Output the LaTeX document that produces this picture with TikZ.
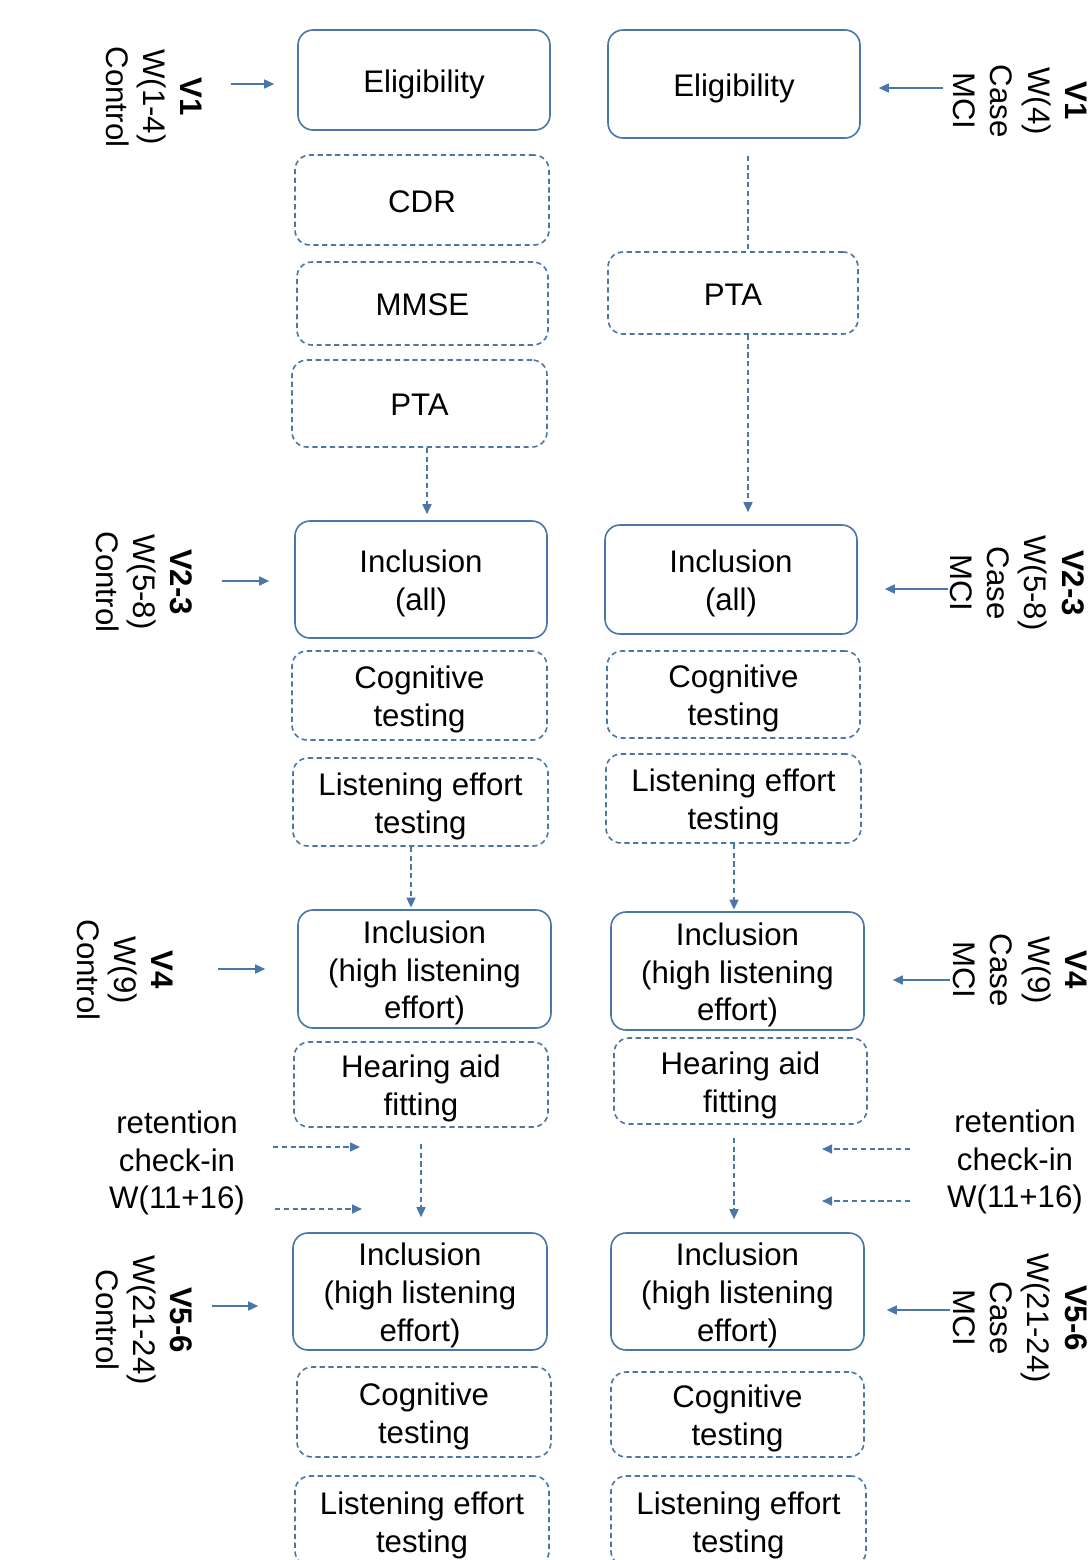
\documentclass[tikz,border=0pt]{standalone}
\usepackage{fontspec}
\setmainfont{Liberation Sans}
\usetikzlibrary{arrows.meta}
\definecolor{edge}{RGB}{74,118,168}
\newcommand{\bx}[1]{\raisebox{-2.3pt}[\height][\depth]{\begin{tabular}{@{}c@{}}#1\end{tabular}}}
\tikzset{
  basebox/.style={draw=edge, line width=0.8pt, rounded corners=7.5pt,
    inner sep=0pt, font=\fontsize{15.6}{18.9}\selectfont, text=black},
  solidbox/.style={basebox},
  dashbox/.style={basebox, dash pattern=on 2.6pt off 1.8pt},
  lab/.style={rotate=-90, align=center, inner sep=0pt, font=\fontsize{15.6}{18.6}\selectfont},
  retlab/.style={align=center, inner sep=0pt, font=\fontsize{15.6}{18.9}\selectfont},
  arr/.style={draw=edge, line width=0.8pt, -{Triangle[length=5pt,width=4.5pt]}},
  dasharr/.style={arr, dash pattern=on 2.6pt off 1.8pt},
  dashline/.style={draw=edge, line width=0.8pt, dash pattern=on 2.6pt off 1.8pt}
}
\begin{document}
\begin{tikzpicture}[x=0.5pt,y=-0.5pt]
\useasboundingbox (0,0) rectangle (1090,1560);
% ---------- left column ----------
\node[solidbox, minimum width=126pt, minimum height=50pt] (le1) at (424,80) {\bx{Eligibility}};
\node[dashbox, minimum width=127pt, minimum height=45pt] (lcdr) at (422,200) {\bx{CDR}};
\node[dashbox, minimum width=125.5pt, minimum height=41.5pt] (lmmse) at (422.5,303.5) {\bx{MMSE}};
\node[dashbox, minimum width=127.5pt, minimum height=43.5pt] (lpta) at (419.5,403.5) {\bx{PTA}};
\node[solidbox, minimum width=126pt, minimum height=58.5pt] (linc) at (421,579.5) {\bx{Inclusion\\(all)}};
\node[dashbox, minimum width=127.5pt, minimum height=44.5pt] (lcog1) at (419.5,695.5) {\bx{Cognitive\\testing}};
\node[dashbox, minimum width=127.5pt, minimum height=44pt] (llis1) at (420.5,802) {\bx{Listening effort\\testing}};
\node[solidbox, minimum width=126.5pt, minimum height=59pt] (lhigh1) at (424.5,969) {\bx{Inclusion\\(high listening\\effort)}};
\node[dashbox, minimum width=127pt, minimum height=42.5pt] (lhaf) at (421,1084.5) {\bx{Hearing aid\\fitting}};
\node[solidbox, minimum width=127pt, minimum height=58.5pt] (lhigh2) at (420,1291.5) {\bx{Inclusion\\(high listening\\effort)}};
\node[dashbox, minimum width=127pt, minimum height=45pt] (lcog2) at (424,1412) {\bx{Cognitive\\testing}};
\node[dashbox, minimum width=127pt, minimum height=45pt] (llis2) at (422,1521) {\bx{Listening effort\\testing}};
% ---------- right column ----------
\node[solidbox, minimum width=126pt, minimum height=54pt] (re1) at (734,84) {\bx{Eligibility}};
\node[dashbox, minimum width=125pt, minimum height=41pt] (rpta) at (733,293) {\bx{PTA}};
\node[solidbox, minimum width=126pt, minimum height=54.5pt] (rinc) at (731,579.5) {\bx{Inclusion\\(all)}};
\node[dashbox, minimum width=126.5pt, minimum height=43.5pt] (rcog1) at (733.5,694.5) {\bx{Cognitive\\testing}};
\node[dashbox, minimum width=127.5pt, minimum height=44.5pt] (rlis1) at (733.5,798.5) {\bx{Listening effort\\testing}};
\node[solidbox, minimum width=126.5pt, minimum height=59pt] (rhigh1) at (737.5,971) {\bx{Inclusion\\(high listening\\effort)}};
\node[dashbox, minimum width=126.5pt, minimum height=43pt] (rhaf) at (740.5,1081) {\bx{Hearing aid\\fitting}};
\node[solidbox, minimum width=126.5pt, minimum height=58.5pt] (rhigh2) at (737.5,1291.5) {\bx{Inclusion\\(high listening\\effort)}};
\node[dashbox, minimum width=126.5pt, minimum height=42.5pt] (rcog2) at (737.5,1414.5) {\bx{Cognitive\\testing}};
\node[dashbox, minimum width=127.5pt, minimum height=45pt] (rlis2) at (738.5,1521) {\bx{Listening effort\\testing}};
% ---------- side labels ----------
\node[lab] (lv1) at (154,97) {\textbf{V1}\\W(1-4)\\Control};
\node[lab] (lv23) at (144,582) {\textbf{V2-3}\\W(5-8)\\Control};
\node[lab] (lv4) at (125,970) {\textbf{V4}\\W(9)\\Control};
\node[lab] (lv56) at (144,1320) {\textbf{V5-6}\\W(21-24)\\Control};
\node[lab] (rv1) at (1020,101) {\textbf{V1}\\W(4)\\Case\\MCI};
\node[lab] (rv23) at (1017,583) {\textbf{V2-3}\\W(5-8)\\Case\\MCI};
\node[lab] (rv4) at (1020,970) {\textbf{V4}\\W(9)\\Case\\MCI};
\node[lab] (rv56) at (1020,1318) {\textbf{V5-6}\\W(21-24)\\Case\\MCI};
\node[retlab] (lret) at (177,1163) {retention\\check-in\\W(11+16)};
\node[retlab] (rret) at (1015,1162) {retention\\check-in\\W(11+16)};
% ---------- column connectors ----------
\coordinate (a1) at ([xshift=3.75pt]lpta.south);
\draw[dasharr, shorten >=3pt] (a1) -- (a1 |- linc.north);
\coordinate (a2) at ([xshift=-4.75pt]llis1.south);
\draw[dasharr, shorten >=0.8pt] (a2) -- (a2 |- lhigh1.north);
\coordinate (a3) at (lhaf.south);
\draw[dasharr, shorten <=8pt, shorten >=7.5pt] (a3) -- (a3 |- lhigh2.north);
\coordinate (b0) at ([xshift=7pt]re1.south);
\draw[dashline, shorten <=8.5pt] (b0) -- (b0 |- rpta.north);
\coordinate (b1) at ([xshift=7.5pt]rpta.south);
\draw[dasharr, shorten >=6pt] (b1) -- (b1 |- rinc.north);
\coordinate (b2) at ([xshift=0.25pt]rlis1.south);
\draw[dasharr, shorten >=0.8pt] (b2) -- (b2 |- rhigh1.north);
\coordinate (b3) at ([xshift=-3.25pt]rhaf.south);
\draw[dasharr, shorten <=6.5pt, shorten >=6.5pt] (b3) -- (b3 |- rhigh2.north);
% ---------- side arrows ----------
\coordinate (s1) at (231,84);
\draw[arr, shorten >=11.5pt] (s1) -- (s1 -| le1.west);
\coordinate (s2) at (222,581);
\draw[arr, shorten >=12.5pt] (s2) -- (s2 -| linc.west);
\coordinate (s3) at (218,969);
\draw[arr, shorten >=16pt] (s3) -- (s3 -| lhigh1.west);
\coordinate (s4) at (212,1306);
\draw[arr, shorten >=17pt] (s4) -- (s4 -| lhigh2.west);
\coordinate (t1) at (943,88);
\draw[arr, shorten >=9pt] (t1) -- (t1 -| re1.east);
\coordinate (t2) at (948,589);
\draw[arr, shorten >=13.5pt] (t2) -- (t2 -| rinc.east);
\coordinate (t3) at (950,980);
\draw[arr, shorten >=14pt] (t3) -- (t3 -| rhigh1.east);
\coordinate (t4) at (950,1310);
\draw[arr, shorten >=11pt] (t4) -- (t4 -| rhigh2.east);
% retention arrows
\coordinate (r1s) at (273,1147); \coordinate (r1e) at (360,1147);
\coordinate (r2s) at (275,1209); \coordinate (r2e) at (362,1209);
\draw[dasharr] (r1s) -- (r1e);
\draw[dasharr] (r2s) -- (r2e);
\coordinate (q1s) at (910,1149); \coordinate (q1e) at (822,1149);
\coordinate (q2s) at (910,1201); \coordinate (q2e) at (822,1201);
\draw[dasharr] (q1s) -- (q1e);
\draw[dasharr] (q2s) -- (q2e);
\end{tikzpicture}
\end{document}
